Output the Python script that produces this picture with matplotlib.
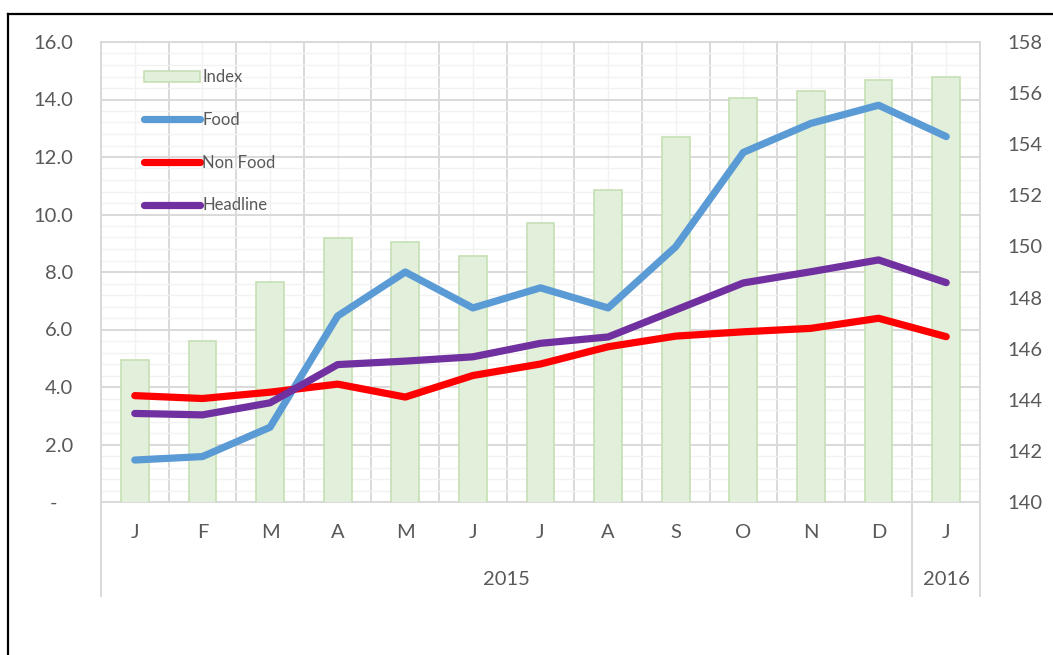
import matplotlib
matplotlib.use("Agg")
import matplotlib.pyplot as plt
from matplotlib.lines import Line2D
import matplotlib.transforms as mtransforms
import numpy as np

# data
months = ["J", "F", "M", "A", "M", "J", "J", "A", "S", "O", "N", "D", "J"]
years = ["2015", "2016"]
year_span = [(0, 11), (12, 12)]   # first and last month index for each year

index = [145.57, 146.30, 148.60, 150.35, 150.18, 149.62, 150.90,
         152.20, 154.30, 155.80, 156.10, 156.50, 156.65]
food = [1.46, 1.58, 2.60, 6.47, 8.00, 6.75, 7.45, 6.75, 8.88, 12.16, 13.17, 13.80, 12.71]
non_food = [3.70, 3.60, 3.82, 4.10, 3.65, 4.40, 4.80, 5.40, 5.77, 5.92, 6.04, 6.39, 5.75]
headline = [3.08, 3.03, 3.45, 4.78, 4.90, 5.05, 5.52, 5.74, 6.68, 7.62, 8.01, 8.42, 7.63]

left_ticks = np.arange(0, 17, 2)
right_ticks = np.arange(140, 159, 2)

txt = "#595959"
grid_major = "#D9D9D9"
grid_minor = "#F2F2F2"
plt.rcParams["font.family"] = ["Lato", "DejaVu Sans"]

fig = plt.figure(figsize=(10.53, 6.55), dpi=100)
ax = fig.add_axes([101 / 1053, 1 - 502 / 655, 879 / 1053, 460 / 655])
x = np.arange(len(months))

# bottom layer: grid + left axis labels
ax.set_xlim(-0.5, len(months) - 0.5)
ax.set_ylim(0, 16)
ax.set_yticks(left_ticks)
ax.set_yticklabels(["-   " if v == 0 else f"{v:.1f}" for v in left_ticks])
ax.set_yticks(np.arange(0, 16.01, 0.4), minor=True)
ax.set_xticks(np.arange(-0.5, len(months), 1.0))
ax.set_xticklabels([])
ax.set_xticks(x, minor=True)
ax.set_xticklabels(months, minor=True)
ax.grid(True, which="major", color=grid_major, lw=1.4)
ax.grid(True, which="minor", color=grid_minor, lw=1.0)
ax.set_axisbelow(True)
for s in ax.spines.values():
    s.set_color(grid_major)
    s.set_linewidth(1.4)
ax.tick_params(axis="both", which="both", length=0, colors=txt, labelsize=14.5)
ax.tick_params(axis="y", pad=20)
ax.tick_params(axis="x", which="minor", pad=16)

# bars on the right axis
ax2 = ax.twinx()
bars = ax2.bar(x, index, width=0.41, color="#E2EFDA", edgecolor="#C5E0B4",
               lw=1.2, label="Index")
ax2.set_ylim(140, 158)
ax2.set_yticks(right_ticks)
ax2.tick_params(axis="y", length=0, colors=txt, labelsize=14.5, pad=20)
for s in ax2.spines.values():
    s.set_visible(False)

# lines on top, left scale
ax3 = ax.twinx()
ax3.set_ylim(0, 16)
ax3.set_yticks([])
for s in ax3.spines.values():
    s.set_visible(False)
kw = dict(lw=5.2, solid_capstyle="round", solid_joinstyle="round")
l1, = ax3.plot(x, food, color="#5B9BD5", label="Food", **kw)
l2, = ax3.plot(x, non_food, color="#FF0000", label="Non Food", **kw)
l3, = ax3.plot(x, headline, color="#7030A0", label="Headline", **kw)

leg = ax3.legend(handles=[bars, l1, l2, l3], loc="upper left",
                 bbox_to_anchor=(0.041, 0.955), frameon=False, fontsize=12,
                 handlelength=3.4, handleheight=0.7, handletextpad=0.1,
                 labelspacing=1.6, borderaxespad=0)
for t in leg.get_texts():
    t.set_color(txt)

# year labels and separators below the axis
trans = mtransforms.blended_transform_factory(ax.transData, ax.transAxes)
for yr, (a, b) in zip(years, year_span):
    ax.text((a + b) / 2, -0.168, yr, transform=trans, ha="center", va="center",
            color=txt, fontsize=14.5)
for xs in [-0.5, 11.5, len(months) - 0.5]:
    ax.add_line(Line2D([xs, xs], [0, -0.204], transform=trans, color=grid_major,
                       lw=1.4, clip_on=False))

# outer frame (left and top edges visible)
fig.add_artist(Line2D([8 / 1053, 8 / 1053], [0, 1 - 14 / 655], color="black", lw=1.6))
fig.add_artist(Line2D([8 / 1053, 1], [1 - 14 / 655, 1 - 14 / 655], color="black", lw=1.6))

fig.savefig("out.png", dpi=100)
